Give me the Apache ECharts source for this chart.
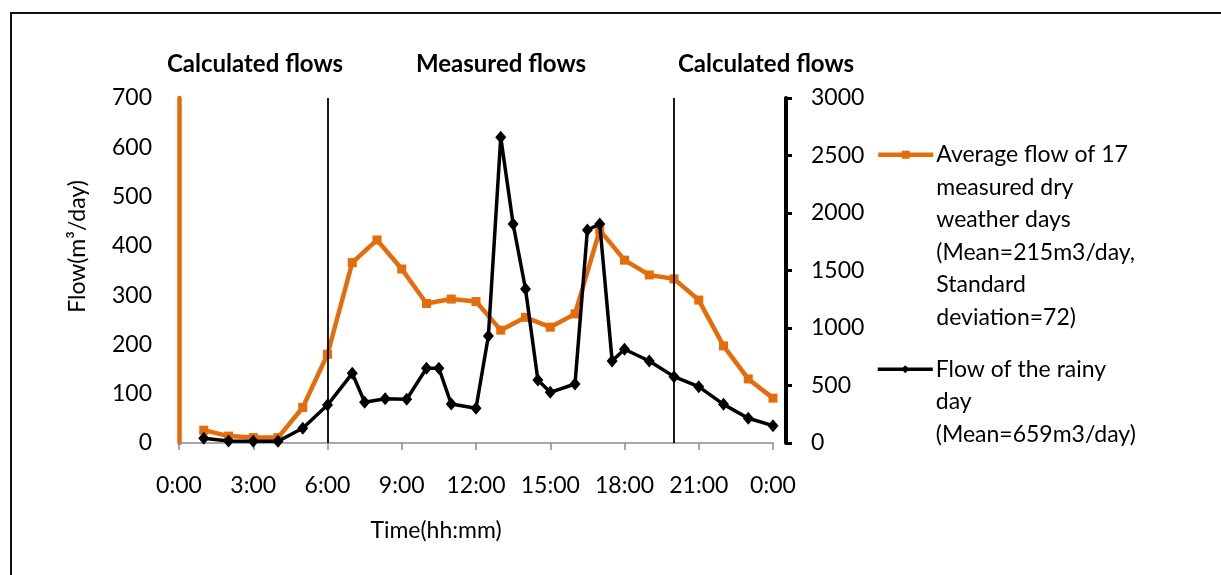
<!DOCTYPE html>
<html>
<head>
<meta charset="utf-8">
<script src="https://cdn.jsdelivr.net/npm/echarts@6/dist/echarts.min.js"></script>
<style>
  html, body { margin: 0; padding: 0; background: #fff; }
  #frame { position: absolute; left: 10px; top: 12px; width: 1300px; height: 700px;
           border-top: 2px solid #111; border-left: 2px solid #111; }
  #chart { position: absolute; left: 0; top: 0; width: 1221px; height: 575px; }
</style>
</head>
<body>
<div id="frame"></div>
<div id="chart"></div>
<script>
// ---- data ----
const dryHours   = [1, 2, 3, 4, 5, 6, 7, 8, 9, 10, 11, 12, 13, 14, 15, 16, 17, 18, 19, 20, 21, 22, 23, 24];
const dryFlow    = [26, 14, 11, 11, 72, 180, 366, 412, 353, 283, 292, 287, 229, 255, 235, 262, 432, 371, 341, 333, 290, 197, 130, 91];

const rainyHours = [1, 2, 3, 4, 5, 6, 7, 7.5, 8.33, 9.2, 10, 10.5, 11, 12, 12.5, 13, 13.5, 14, 14.5, 15, 16, 16.5, 17, 17.5, 18, 19, 20, 21, 22, 23, 24];
const rainyFlow  = [41, 17, 15, 15, 128, 330, 606, 355, 385, 380, 650, 650, 339, 302, 930, 2658, 1904, 1339, 548, 441, 513, 1852, 1904, 713, 815, 713, 577, 490, 336, 215, 151];

const dividerHours = [6, 20];
const periodLabels = ['Calculated flows', 'Measured flows', 'Calculated flows'];

const dryName   = 'Average flow of 17 measured dry weather days (Mean=215m3/day, Standard deviation=72)';
const rainyName = 'Flow of the rainy day (Mean=659m3/day)';
const dryLegendLines   = ['Average flow of 17', 'measured dry', 'weather days', '(Mean=215m3/day,', 'Standard', 'deviation=72)'];
const rainyLegendLines = ['Flow of the rainy', 'day', '(Mean=659m3/day)'];

const FONT = 'Lato, "Open Sans", sans-serif';
const ORANGE = '#E46C0A';
const FS = 23;

const chart = echarts.init(document.getElementById('chart'), null, { renderer: 'canvas' });

function pairs(xs, ys) { return xs.map((x, i) => [x, ys[i]]); }

const titleStyle = { fontFamily: FONT, fontSize: 24, fontWeight: 'bold', color: '#000' };

const option = {
  animation: false,
  backgroundColor: 'transparent',
  textStyle: { fontFamily: FONT, color: '#000' },
  title: [
    { text: periodLabels[0], left: 250, top: 47, textAlign: 'center', textStyle: titleStyle },
    { text: periodLabels[1], left: 496, top: 47, textAlign: 'center', textStyle: titleStyle },
    { text: periodLabels[2], left: 761, top: 47, textAlign: 'center', textStyle: titleStyle }
  ],
  grid: { left: 179, right: 448, top: 98, bottom: 132, containLabel: false },
  legend: [
    {
      data: [dryName], orient: 'vertical', left: 876, top: -24, padding: 0,
      itemWidth: 55, itemHeight: 10, itemGap: 0,
      lineStyle: { width: 4.5 },
      formatter: () => '\n\n\n\n\n' + dryLegendLines.join('\n'),
      textStyle: { fontFamily: FONT, fontSize: FS, lineHeight: 32.5, color: '#000', padding: [0, 0, 0, -2] }
    },
    {
      data: [rainyName], orient: 'vertical', left: 876, top: 288, padding: 0,
      itemWidth: 55, itemHeight: 10, itemGap: 0,
      lineStyle: { width: 3.5 },
      formatter: () => '\n\n' + rainyLegendLines.join('\n'),
      textStyle: { fontFamily: FONT, fontSize: FS, lineHeight: 32.5, color: '#000', padding: [0, 0, 0, -2] }
    }
  ],
  xAxis: {
    type: 'value', min: 0, max: 24, interval: 3,
    name: 'Time(hh:mm)', nameLocation: 'middle', nameGap: 76,
    nameTextStyle: { fontFamily: FONT, fontSize: FS, color: '#000', padding: [0, 80, 0, 0] },
    axisLine: { show: true, lineStyle: { color: '#8c8c8c', width: 1.5 } },
    axisTick: { show: true, length: 7, lineStyle: { color: '#8c8c8c', width: 1.5 } },
    axisLabel: { margin: 31, fontFamily: FONT, fontSize: FS, color: '#000',
      formatter: v => (v % 24) + ':00' },
    splitLine: { show: false }
  },
  yAxis: [
    {
      type: 'value', min: 0, max: 700, interval: 100, position: 'left',
      name: 'Flow(m³/day)', nameLocation: 'middle', nameGap: 90, nameRotate: 90,
      nameTextStyle: { fontFamily: FONT, fontSize: FS, color: '#000', padding: [0, 0, 0, 48] },
      axisLine: { show: true, lineStyle: { color: ORANGE, width: 4.5 } },
      axisTick: { show: false },
      axisLabel: { margin: 27, fontFamily: FONT, fontSize: FS, color: '#000' },
      splitLine: { show: false }
    },
    {
      type: 'value', min: 0, max: 3000, interval: 500, position: 'right', offset: 13,
      axisLine: { show: true, lineStyle: { color: '#000', width: 4 } },
      axisTick: { show: true, inside: false, length: 6, lineStyle: { color: '#000', width: 3 } },
      axisLabel: { margin: 25, fontFamily: FONT, fontSize: FS, color: '#000',
        formatter: v => String(v) },
      splitLine: { show: false }
    }
  ],
  series: [
    {
      name: dryName, type: 'line', yAxisIndex: 0,
      data: pairs(dryHours, dryFlow),
      symbol: 'rect', symbolSize: 9,
      lineStyle: { color: ORANGE, width: 4.5 },
      itemStyle: { color: ORANGE },
      z: 3
    },
    {
      name: rainyName, type: 'line', yAxisIndex: 1,
      data: pairs(rainyHours, rainyFlow),
      symbol: 'diamond', symbolSize: [11, 13],
      lineStyle: { color: '#000', width: 3.5 },
      itemStyle: { color: '#000' },
      z: 4,
      markLine: {
        silent: true, symbol: 'none', label: { show: false },
        lineStyle: { color: '#000', width: 1.8, type: 'solid' },
        data: dividerHours.map(h => ({ xAxis: h }))
      }
    }
  ]
};

chart.setOption(option);
</script>
</body>
</html>
